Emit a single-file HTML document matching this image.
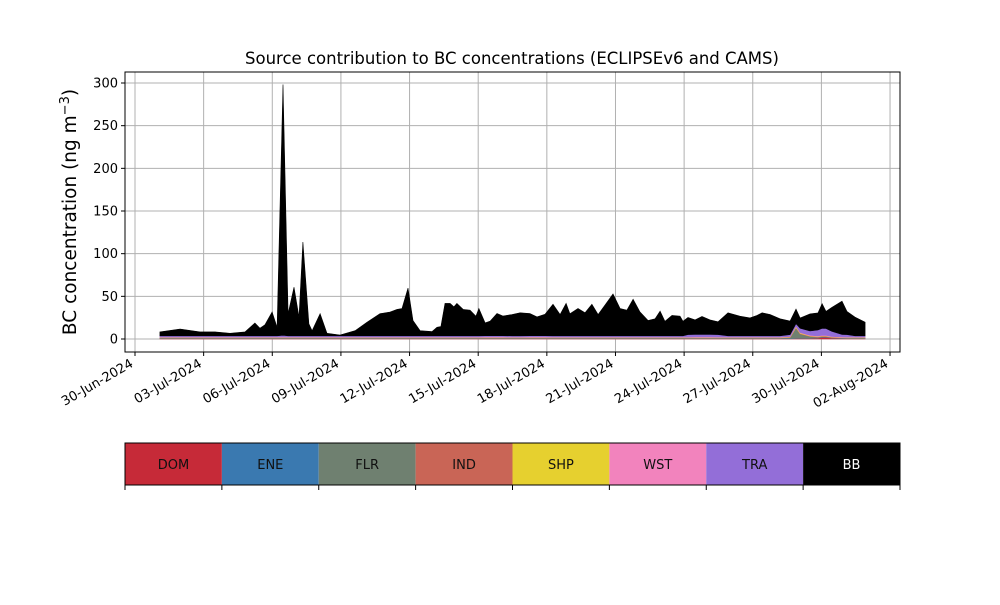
<!DOCTYPE html>
<html><head><meta charset="utf-8"><style>
body{margin:0;background:#fff;width:1000px;height:600px;overflow:hidden;font-family:"Liberation Sans","DejaVu Sans",sans-serif}
svg text{font-family:"DejaVu Sans","Liberation Sans",sans-serif}
</style></head><body>
<svg id="chart" width="1000" height="600" xmlns="http://www.w3.org/2000/svg"></svg>
<script>
const days=[1.09,1.97,2.84,3.50,4.15,4.81,5.24,5.46,5.68,5.99,6.21,6.47,6.69,6.95,7.17,7.34,7.60,7.74,8.09,8.39,8.96,9.62,10.14,10.71,11.15,11.45,11.67,11.93,12.15,12.46,12.98,13.20,13.37,13.55,13.77,13.94,14.07,14.34,14.64,14.90,15.03,15.30,15.52,15.82,16.08,16.48,16.83,17.26,17.57,17.92,18.27,18.58,18.84,19.01,19.36,19.67,19.97,20.24,20.54,20.89,21.20,21.50,21.77,22.07,22.42,22.73,22.95,23.16,23.47,23.82,23.95,24.17,24.48,24.78,25.13,25.48,25.92,26.44,26.88,27.19,27.41,27.76,28.19,28.63,28.89,29.07,29.50,29.85,30.03,30.20,30.46,30.90,31.12,31.47,31.91];
const DOM=[0.4,0.4,0.4,0.4,0.4,0.4,0.4,0.4,0.4,0.4,0.4,0.5,0.4,0.4,0.4,0.4,0.4,0.4,0.4,0.4,0.4,0.4,0.4,0.4,0.4,0.4,0.4,0.4,0.4,0.4,0.4,0.4,0.4,0.4,0.4,0.4,0.4,0.4,0.4,0.4,0.4,0.4,0.4,0.4,0.4,0.4,0.4,0.4,0.4,0.4,0.4,0.4,0.4,0.4,0.4,0.4,0.4,0.4,0.4,0.4,0.4,0.4,0.4,0.4,0.4,0.4,0.4,0.4,0.4,0.4,0.4,0.4,0.4,0.4,0.4,0.4,0.4,0.4,0.4,0.4,0.4,0.4,0.4,0.4,0.6,0.6,0.6,1,2,2,1,0.5,0.4,0.4,0.4];
const ENE=[0.3,0.3,0.3,0.3,0.3,0.3,0.3,0.3,0.3,0.3,0.3,0.3,0.3,0.3,0.3,0.3,0.3,0.3,0.3,0.3,0.3,0.3,0.3,0.3,0.3,0.3,0.3,0.3,0.3,0.3,0.3,0.3,0.3,0.3,0.3,0.3,0.3,0.3,0.3,0.3,0.3,0.3,0.3,0.3,0.3,0.3,0.3,0.3,0.3,0.3,0.3,0.3,0.3,0.3,0.3,0.3,0.3,0.3,0.3,0.3,0.3,0.3,0.3,0.3,0.3,0.3,0.3,0.3,0.3,0.3,0.3,0.3,0.3,0.3,0.3,0.3,0.3,0.3,0.3,0.3,0.3,0.3,0.3,0.3,0.3,0.3,0.3,0.3,0.3,0.3,0.3,0.3,0.3,0.3,0.3];
const FLR=[0.4,0.4,0.4,0.4,0.4,0.4,0.4,0.4,0.4,0.4,0.4,0.4,0.4,0.4,0.4,0.4,0.4,0.4,0.4,0.4,0.4,0.4,0.4,0.4,0.4,0.4,0.4,0.4,0.4,0.4,0.4,0.4,0.4,0.4,0.4,0.4,0.4,0.4,0.4,0.4,0.4,0.4,0.4,0.4,0.4,0.4,0.4,0.4,0.4,0.4,0.4,0.4,0.4,0.4,0.4,0.4,0.4,0.4,0.4,0.4,0.4,0.4,0.4,0.4,0.4,0.4,0.4,0.4,0.4,0.4,0.4,0.4,0.4,0.4,0.4,0.4,0.4,0.4,0.4,0.4,0.4,0.4,0.4,1,12,5,2,0.8,0.6,0.5,0.4,0.4,0.4,0.4,0.4];
const IND=[0.3,0.3,0.3,0.3,0.3,0.3,0.3,0.3,0.3,0.3,0.3,0.3,0.3,0.3,0.3,0.3,0.3,0.3,0.3,0.3,0.3,0.3,0.3,0.3,0.3,0.3,0.3,0.3,0.3,0.3,0.3,0.3,0.3,0.3,0.3,0.3,0.3,0.3,0.3,0.3,0.3,0.3,0.3,0.3,0.3,0.3,0.3,0.3,0.3,0.3,0.3,0.3,0.3,0.3,0.3,0.3,0.3,0.3,0.3,0.3,0.3,0.3,0.3,0.3,0.3,0.3,0.3,0.3,0.3,0.3,0.3,0.3,0.3,0.3,0.3,0.3,0.3,0.3,0.3,0.3,0.3,0.3,0.3,0.4,0.6,0.6,0.5,0.5,0.5,0.5,0.4,0.3,0.3,0.3,0.3];
const SHP=[0.3,0.3,0.3,0.3,0.3,0.3,0.3,0.3,0.3,0.3,0.3,0.3,0.3,0.3,0.3,0.3,0.3,0.3,0.3,0.3,0.3,0.3,0.3,0.3,0.3,0.3,0.3,0.3,0.3,0.3,0.3,0.3,0.3,0.3,0.3,0.3,0.3,0.3,0.3,0.3,0.3,0.5,0.5,0.5,0.5,0.3,0.3,0.5,0.5,0.5,0.3,0.3,0.3,0.3,0.3,0.3,0.3,0.3,0.3,0.3,0.3,0.3,0.3,0.3,0.3,0.3,0.3,0.3,0.3,0.3,0.3,0.3,0.5,0.5,0.5,0.3,0.3,0.3,0.3,0.3,0.3,0.3,0.3,0.5,1,0.6,0.5,0.5,0.5,0.5,0.4,0.3,0.3,0.3,0.3];
const WST=[0.5,0.5,0.5,0.5,0.5,0.5,0.5,0.5,0.5,0.5,0.5,0.5,0.5,0.5,0.5,0.5,0.5,0.5,0.5,0.5,0.5,0.5,0.5,0.5,0.5,0.5,0.5,0.5,0.5,0.5,0.5,0.5,0.5,0.5,0.5,0.5,0.5,0.5,0.5,0.5,0.5,0.5,0.5,0.5,0.5,0.5,0.5,0.5,0.5,0.5,0.5,0.5,0.5,0.5,0.5,0.5,0.5,0.5,0.5,0.5,0.5,0.5,0.5,0.5,0.5,0.5,0.5,0.5,0.5,0.5,0.5,0.5,0.5,0.5,0.5,0.5,0.5,0.5,0.5,0.5,0.5,0.5,0.5,0.5,0.5,0.5,0.5,0.5,0.5,0.5,0.5,0.5,0.5,0.5,0.5];
const TRA=[1.5,1.5,1.5,1.5,1.5,1.5,1.5,1.5,1.5,1.5,1.5,2,1.5,1.5,1.5,1.5,1.5,1.5,1.5,1.5,1.5,1.5,1.5,1.5,1.5,1.5,1.5,1.5,1.5,1.5,1.5,1.5,1.5,1.5,1.5,1.5,1.5,1.5,1.5,1.5,1.5,1.5,1.5,1.5,1.5,1.5,1.5,1.5,1.5,1.5,1.5,1.5,1.5,1.5,1.5,1.5,1.5,1.5,1.5,1.5,1.5,1.5,1.5,1.5,1.5,1.5,1.5,1.5,1.5,1.5,1.5,3,3,3,3,3,1.5,1.5,1.5,1.5,1.5,1.5,1.5,2,3,5,5,7,8,8,6,3,3,1.5,1.5];
const BB=[4.6,8,4.6,4.6,3,4.6,15,9,13,28,10,294,26,57,22,110,14,6,26,3,1,6,16,26,28,31,32,56,18,6,5,10,11,38,38,34,38,31,30,23,32,15,17,26,23,25,27,26,22,25,37,25,38,26,32,27,37,25,36,49,32,30,43,28,18,20,29,17,24,23,17,20,17,21,17,15,27,23,21,24,27,25,20,16,17,12,20,20,29,20,28,39,27,22,16];
const yTicks=[0,50,100,150,200,250,300];
const xTickDays=[0,3,6,9,12,15,18,21,24,27,30,33];
const xTickLabels=["30-Jun-2024","03-Jul-2024","06-Jul-2024","09-Jul-2024","12-Jul-2024","15-Jul-2024","18-Jul-2024","21-Jul-2024","24-Jul-2024","27-Jul-2024","30-Jul-2024","02-Aug-2024"];
const sourceNames=["DOM","ENE","FLR","IND","SHP","WST","TRA","BB"];
const sourceColors=["#c62a38","#3a79b0","#6f8070","#c96556","#e6d02f","#f283bd","#936ed8","#000000"];

const NS="http://www.w3.org/2000/svg";
const svg=document.getElementById('chart');
function mk(tag,attrs,parent){const e=document.createElementNS(NS,tag);for(const k in attrs)e.setAttribute(k,attrs[k]);(parent||svg).appendChild(e);return e;}
const L=125,R=900,T=72,B=352;
const xs=d=>135+(d-0)*22.88;
const ys=v=>339-v*0.8533;

xTickDays.forEach((d,i)=>{const g=mk('line',{x1:xs(d),x2:xs(d),y1:T,y2:B,stroke:'#b0b0b0','stroke-width':1});

});
yTicks.forEach(v=>{const g=mk('line',{x1:L,x2:R,y1:ys(v),y2:ys(v),stroke:'#b0b0b0','stroke-width':1});

});

const series=[DOM,ENE,FLR,IND,SHP,WST,TRA,BB];
let base=days.map(()=>0);
series.forEach((s,k)=>{
  const top=base.map((b,i)=>b+s[i]);
  let d='M'+days.map((t,i)=>xs(t).toFixed(1)+','+ys(top[i]).toFixed(1)).join('L');
  for(let i=days.length-1;i>=0;i--)d+='L'+xs(days[i]).toFixed(1)+','+ys(base[i]).toFixed(1);
  d+='Z';
  const p=mk('path',{d:d,fill:sourceColors[k],stroke:sourceColors[k],'stroke-width':0.6});
  
  
  base=top;
});

const fr=mk('rect',{x:L,y:T,width:R-L,height:B-T,fill:'none',stroke:'#000','stroke-width':1});



yTicks.forEach(v=>{mk('line',{x1:L-4,x2:L,y1:ys(v),y2:ys(v),stroke:'#000'});
const t=mk('text',{x:L-7,y:ys(v)+4.5,'text-anchor':'end','font-size':13});t.textContent=v;

});
xTickDays.forEach((d,i)=>{const x=xs(d);mk('line',{x1:x,x2:x,y1:B,y2:B+4,stroke:'#000'});
const t=mk('text',{x:x-1,y:B+14,'text-anchor':'end','font-size':13,transform:`rotate(-30 ${x-1} ${B+14})`});t.textContent=xTickLabels[i];

});

const title=mk('text',{x:512,y:64,'text-anchor':'middle','font-size':16.5});title.textContent='Source contribution to BC concentrations (ECLIPSEv6 and CAMS)';


const yl=mk('text',{x:76,y:212,'text-anchor':'middle','font-size':18.5,transform:'rotate(-90 76 212)'});
yl.innerHTML='BC concentration (ng m<tspan dy="-7" font-size="13">−3</tspan><tspan dy="7">)</tspan>';



const cw=(R-L)/sourceNames.length;
sourceNames.forEach((n,i)=>{
  const r=mk('rect',{x:L+i*cw,y:443,width:cw,height:42,fill:sourceColors[i]});
  
  
  const t=mk('text',{x:L+i*cw+cw/2,y:469,'text-anchor':'middle','font-size':13,fill:n==='BB'?'#fff':'#111'});t.textContent=n;
  
  
});
for(let i=0;i<=sourceNames.length;i++)mk('line',{x1:L+i*cw,x2:L+i*cw,y1:485,y2:490,stroke:'#000'});
const cb=mk('rect',{x:L,y:443,width:R-L,height:42,fill:'none',stroke:'#000','stroke-width':1});


</script>
</body></html>
